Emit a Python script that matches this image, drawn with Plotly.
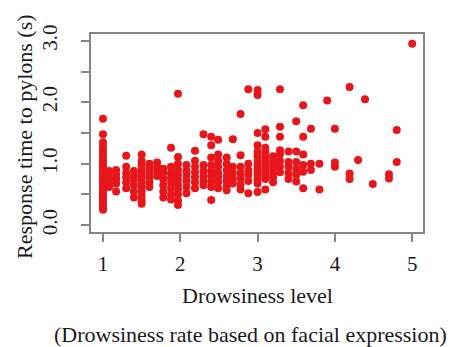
import plotly.graph_objects as go

# Drowsiness level columns and response times (s)
col_x = [1.0, 1.08, 1.17, 1.30, 1.40, 1.50, 1.60, 1.70, 1.78, 1.88, 1.97,
         2.08, 2.19, 2.30, 2.40, 2.49, 2.60, 2.68, 2.78, 2.88, 3.0, 3.1,
         3.2, 3.29, 3.4, 3.5, 3.59, 3.69, 3.8, 3.9, 4.0, 4.19, 4.3, 4.39,
         4.49, 4.7, 4.8, 5.0]
col_y = [
    [1.73, 1.48, 1.35, 1.28, 1.22, 1.16, 1.10, 1.05, 1.00, 0.95, 0.90, 0.85, 0.80, 0.76,
     0.72, 0.68, 0.64, 0.60, 0.56, 0.52, 0.48, 0.44, 0.40, 0.36, 0.32, 0.28, 0.25],
    [0.88, 0.78, 0.70, 0.62],
    [0.90, 0.82, 0.75, 0.68, 0.55],
    [1.13, 0.95, 0.85, 0.78, 0.70, 0.60],
    [0.88, 0.80, 0.74, 0.65, 0.55, 0.45],
    [1.15, 1.05, 0.98, 0.90, 0.83, 0.76, 0.70, 0.62, 0.55, 0.47, 0.40, 0.35],
    [1.00, 0.92, 0.85, 0.78, 0.70, 0.62],
    [1.02, 0.95, 0.88, 0.80],
    [0.92, 0.85, 0.75, 0.65, 0.55, 0.45],
    [1.26, 0.95, 0.85, 0.78, 0.70, 0.60, 0.50, 0.42],
    [2.14, 1.11, 1.00, 0.90, 0.82, 0.74, 0.66, 0.58, 0.50, 0.40, 0.33],
    [0.98, 0.88, 0.80, 0.72, 0.62, 0.52],
    [1.21, 1.05, 0.95, 0.86, 0.78, 0.70, 0.60],
    [1.48, 0.98, 0.88, 0.80, 0.72, 0.65],
    [1.44, 1.30, 1.10, 0.98, 0.88, 0.80, 0.72, 0.62, 0.41],
    [1.39, 1.15, 1.05, 0.95, 0.85, 0.78, 0.70, 0.60],
    [1.10, 1.00, 0.90, 0.80, 0.72, 0.64, 0.57],
    [1.40, 0.95, 0.85, 0.76, 0.68],
    [1.81, 1.14, 0.95, 0.85, 0.76, 0.66, 0.58],
    [2.21, 1.00, 0.90, 0.82, 0.72, 0.52],
    [2.20, 2.12, 1.50, 1.30, 1.20, 1.12, 1.05, 0.98, 0.92, 0.86, 0.80, 0.74, 0.68, 0.54],
    [1.56, 1.44, 1.26, 1.18, 1.10, 1.02, 0.95, 0.88, 0.82, 0.75, 0.58],
    [1.12, 1.05, 0.98, 0.92, 0.85, 0.78, 0.70],
    [2.21, 1.60, 1.44, 1.22, 1.16, 1.05, 0.95, 0.86],
    [1.20, 1.03, 0.95, 0.85, 0.75],
    [1.69, 1.20, 1.03, 0.92, 0.82, 0.71],
    [1.95, 1.44, 1.15, 0.98, 0.87, 0.60],
    [1.57, 1.00, 0.90],
    [1.00, 0.58],
    [2.03],
    [1.57, 1.02, 0.95],
    [2.25, 0.84, 0.75],
    [1.06],
    [2.05],
    [0.67],
    [0.83, 0.76],
    [1.55, 1.03],
    [2.95],
]

x_ticks = [1, 2, 3, 4, 5]
y_ticks = [0.0, 1.0, 2.0, 3.0]
y_tick_text = ["0.0", "1.0", "2.0", "3.0"]

xs, ys = [], []
for cx, cy in zip(col_x, col_y):
    for v in cy:
        xs.append(cx)
        ys.append(v)

FONT = "Liberation Serif"
TXT = "#1a1a1a"
fig = go.Figure(go.Scatter(
    x=xs, y=ys, mode="markers",
    marker=dict(color="#e8161b", size=8, line=dict(width=0)),
    hoverinfo="skip",
))

axis_common = dict(
    showline=True, mirror=True, linecolor="#8a8580", linewidth=2,
    ticks="outside", ticklen=8, tickwidth=2, tickcolor="#8a8580",
    showgrid=False, zeroline=False,
    tickfont=dict(family=FONT, size=21, color=TXT),
)

fig.update_layout(
    width=461, height=347,
    margin=dict(l=91, r=38, t=34, b=115),
    paper_bgcolor="white", plot_bgcolor="white",
    showlegend=False,
    xaxis=dict(range=[0.845, 5.14], tickvals=x_ticks, ticklabelstandoff=4,
               **axis_common),
    yaxis=dict(range=[-0.11, 3.11], tickvals=y_ticks, ticktext=y_tick_text,
               tickangle=-90, ticklabelstandoff=16,
               minor=dict(tickvals=[0.5, 1.5, 2.5], ticks="outside", ticklen=8,
                          tickwidth=2, tickcolor="#8a8580"),
               **axis_common),
    annotations=[
        dict(text="Response time to pylons (s)", xref="paper", yref="paper",
             x=-0.199, y=0.48, textangle=-90, showarrow=False,
             xanchor="center", yanchor="middle",
             font=dict(family=FONT, size=22, color=TXT)),
        dict(text="Drowsiness level", xref="paper", yref="paper",
             x=0.5, y=-0.323, showarrow=False,
             xanchor="center", yanchor="middle",
             font=dict(family=FONT, size=22, color=TXT)),
        dict(text="(Drowsiness rate based on facial expression)", xref="paper", yref="paper",
             x=0.48, y=-0.52, showarrow=False,
             xanchor="center", yanchor="middle",
             font=dict(family=FONT, size=22, color=TXT)),
    ],
)

fig.write_html("out.html")
